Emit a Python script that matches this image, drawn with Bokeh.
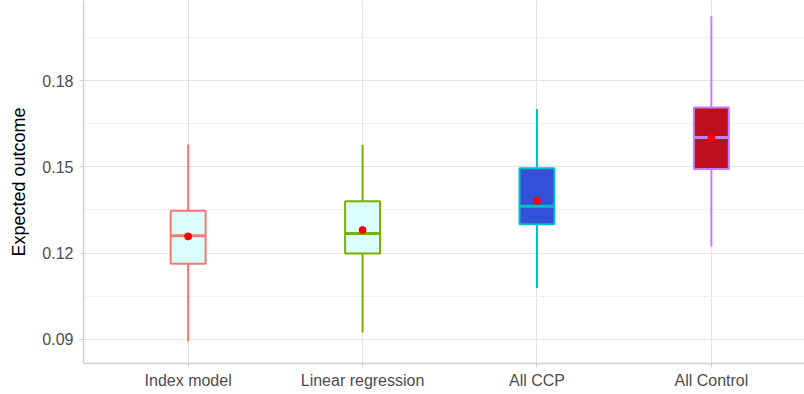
from bokeh.plotting import figure
from bokeh.models import Range1d, FixedTicker, ColumnDataSource
from bokeh.transform import dodge
from bokeh.embed import file_html
from bokeh.resources import INLINE

categories = ["Index model", "Linear regression", "All CCP", "All Control"]
lower = [0.0892, 0.0923, 0.1078, 0.1223]
q1 = [0.1163, 0.1198, 0.1300, 0.1493]
median = [0.1260, 0.1268, 0.1363, 0.1603]
q3 = [0.1347, 0.1380, 0.1495, 0.1707]
upper = [0.1578, 0.1577, 0.1702, 0.2025]
mean = [0.1258, 0.1280, 0.1382, 0.1603]
line_colors = ["#F8766D", "#7CAE00", "#00BFC4", "#C77CFF"]
fill_colors = ["#DBFFFF", "#DBFFFF", "#3351D8", "#BE0F1E"]
y_ticks = [0.09, 0.12, 0.15, 0.18]
y_minor = [0.105, 0.135, 0.165, 0.195]

xs = list(range(1, len(categories) + 1))
src = ColumnDataSource(dict(x=xs, lower=lower, q1=q1, median=median, q3=q3,
                            upper=upper, mean=mean, lc=line_colors, fc=fill_colors))

p = figure(width=804, height=394, output_backend="svg", toolbar_location=None,
           x_range=Range1d(0.4, 4.534), y_range=Range1d(0.0815, 0.208),
           min_border_left=83, min_border_right=0, min_border_top=0, min_border_bottom=31)
p.outline_line_color = None
p.background_fill_color = "white"

# grid
p.xgrid.ticker = FixedTicker(ticks=xs)
p.xgrid.grid_line_color = "#E3E3E3"
p.xgrid.grid_line_width = 1
p.ygrid.ticker = FixedTicker(ticks=y_ticks, minor_ticks=y_minor)
p.ygrid.grid_line_color = "#E3E3E3"
p.ygrid.grid_line_width = 1
p.ygrid.minor_grid_line_color = "#F0F0F0"
p.ygrid.minor_grid_line_width = 1

# axes
p.xaxis.ticker = FixedTicker(ticks=xs)
p.xaxis.major_label_overrides = {x: c for x, c in zip(xs, categories)}
p.yaxis.ticker = FixedTicker(ticks=y_ticks)
p.yaxis.major_label_overrides = {t: f"{t:.2f}" for t in y_ticks}
for ax in (p.xaxis, p.yaxis):
    ax.axis_line_color = "#D0D0D0"
    ax.axis_line_width = 1.5
    ax.major_tick_line_color = "#D0D0D0"
    ax.major_tick_out = 4
    ax.major_tick_in = 0
    ax.minor_tick_line_color = None
    ax.major_label_text_color = "#4D4D4D"
    ax.major_label_text_font = "Liberation Sans"
    ax.major_label_text_font_size = "16px"
p.xaxis.major_label_standoff = 4
p.yaxis.major_label_standoff = 6
p.yaxis.axis_label = "Expected outcome"
p.yaxis.axis_label_text_font = "Liberation Sans"
p.yaxis.axis_label_text_font_size = "18px"
p.yaxis.axis_label_text_font_style = "normal"
p.yaxis.axis_label_text_color = "black"
p.yaxis.axis_label_standoff = 10

# whiskers
p.segment(x0="x", y0="q3", x1="x", y1="upper", source=src, line_color="lc", line_width=2)
p.segment(x0="x", y0="lower", x1="x", y1="q1", source=src, line_color="lc", line_width=2)
# boxes
p.vbar(x="x", width=0.2, bottom="q1", top="q3", source=src, fill_color="fc",
       line_color="lc", line_width=2)
# medians
p.segment(x0=dodge("x", -0.1), y0="median", x1=dodge("x", 0.1), y1="median", source=src,
          line_color="lc", line_width=3)
# means
p.scatter(x="x", y="mean", source=src, size=7, color="red", marker="circle")

open("out.html", "w").write(file_html(p, INLINE))
